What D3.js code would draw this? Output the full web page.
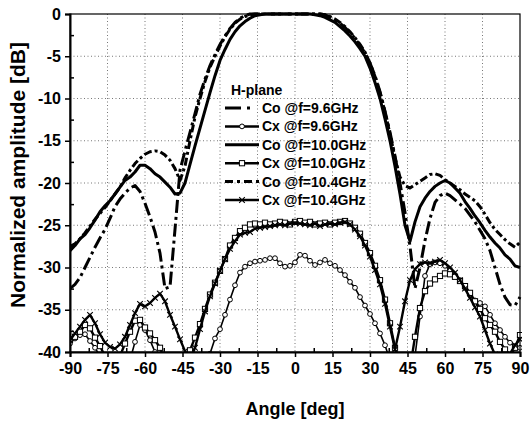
<!DOCTYPE html>
<html>
<head>
<meta charset="utf-8">
<script src="https://cdn.jsdelivr.net/npm/d3@7"></script>
<style>
  body { margin: 0; background: #fff; }
  text { font-family: "Liberation Sans", Arial, sans-serif; font-weight: bold; fill: #000; }
</style>
</head>
<body>
<script>
'use strict';

// angle grid [deg], one value per 2 degrees
const angles = [
  -90, -88, -86, -84, -82, -80, -78, -76, -74, -72,
  -70, -68, -66, -64, -62, -60, -58, -56, -54, -52,
  -50, -48, -46, -44, -42, -40, -38, -36, -34, -32,
  -30, -28, -26, -24, -22, -20, -18, -16, -14, -12,
  -10, -8, -6, -4, -2, 0, 2, 4, 6, 8,
  10, 12, 14, 16, 18, 20, 22, 24, 26, 28,
  30, 32, 34, 36, 38, 40, 42, 44, 46, 48,
  50, 52, 54, 56, 58, 60, 62, 64, 66, 68,
  70, 72, 74, 76, 78, 80, 82, 84, 86, 88,
  90
];

// normalized amplitude [dB]
const co96 = [
  -32.5, -32.0, -31.2, -30.0, -28.8, -27.6, -26.5, -25.5, -24.2, -22.8,
  -21.9, -21.2, -20.6, -20.3, -21.0, -22.4, -24.0, -25.8, -28.3, -32.5,
  -32.3, -25.5, -18.5, -16.2, -14.0, -11.8, -9.5, -7.7, -6.1, -4.8,
  -3.6, -2.6, -1.7, -1.0, -0.5, -0.2, 0, 0, 0, 0,
  0, 0, 0, 0, 0, 0, 0, 0, 0, 0,
  0, -0.1, -0.4, -0.7, -1.1, -1.6, -2.2, -2.9, -3.7, -4.6,
  -5.8, -7.3, -9.2, -11.5, -14.0, -16.8, -20.0, -23.5, -27.5, -32.5,
  -30.0, -26.8, -24.2, -22.3, -21.5, -21.2, -21.5, -22.0, -22.5, -23.0,
  -23.8, -24.6, -25.6, -26.6, -28.0, -30.0, -32.0, -33.5, -34.4, -34.5,
  -33.5
];
const cx96 = [
  -39.0, -38.4, -38.0, -37.9, -38.7, -39.5, -40.5, -42, -42, -42,
  -42, -42, -41, -38.8, -36.8, -37.4, -38.6, -40.0, -42, -42,
  -42, -42, -42, -42, -42, -42, -42, -42, -40.2, -38.4,
  -37.3, -35.6, -33.8, -32.1, -30.6, -29.9, -29.5, -29.3, -29.2, -29.1,
  -28.9, -28.9, -29.5, -29.9, -29.8, -29.4, -28.5, -28.6, -29.2, -29.7,
  -29.4, -29.1, -29.5, -29.8, -30.3, -30.9, -31.7, -32.4, -33.5, -34.5,
  -35.5, -36.6, -37.8, -39.2, -41, -42, -42, -42, -42, -40.5,
  -35.8, -31.0, -29.6, -29.4, -29.5, -29.8, -30.3, -30.9, -31.5, -32.4,
  -33.3, -33.9, -34.2, -34.6, -35.6, -36.6, -37.4, -38.2, -38.9, -39.3,
  -39.5
];
const co100 = [
  -28.0, -27.4, -26.6, -26.1, -25.3, -24.4, -23.4, -22.7, -22.1, -21.3,
  -20.5, -19.7, -19.3, -18.7, -17.9, -17.9, -18.3, -18.9, -19.3, -19.9,
  -20.5, -21.3, -21.2, -20.0, -17.8, -15.6, -13.5, -11.4, -9.3, -7.3,
  -5.5, -4.2, -3.0, -2.1, -1.4, -0.9, -0.5, -0.2, -0.1, 0,
  0, 0, 0, 0, 0, 0, 0, 0, 0, -0.1,
  -0.2, -0.4, -0.7, -1.0, -1.5, -2.0, -2.6, -3.3, -4.1, -5.0,
  -6.4, -8.1, -10.0, -12.4, -15.0, -18.0, -21.3, -25.0, -26.9, -24.6,
  -22.8, -21.8, -21.0, -20.4, -20.0, -19.7, -20.0, -20.6, -21.2, -22.2,
  -23.0, -23.9, -24.7, -25.6, -26.4, -27.1, -27.7, -28.5, -29.0, -29.8,
  -30.0
];
const cx100 = [
  -38.5, -38.2, -37.6, -36.8, -37.2, -38.3, -39.3, -40.5, -42, -42,
  -40.5, -39.0, -37.6, -36.3, -36.2, -37.1, -37.8, -38.6, -39.5, -41,
  -42, -42, -42, -41, -39.8, -38.3, -36.7, -34.9, -33.2, -31.8,
  -30.4, -29.0, -27.4, -26.5, -25.7, -25.3, -24.9, -24.8, -24.9, -24.7,
  -24.9, -24.8, -24.6, -24.7, -24.9, -24.6, -24.5, -24.7, -24.6, -24.9,
  -24.8, -24.7, -24.9, -24.7, -24.6, -24.5, -24.8, -25.3, -26.0, -27.1,
  -28.3, -29.8, -31.5, -33.8, -36.6, -39.5, -42, -42, -42, -38.2,
  -34.8, -32.8, -31.9, -31.4, -31.0, -30.7, -30.8, -31.1, -31.6, -32.2,
  -33.0, -34.0, -34.9, -36.0, -36.8, -37.6, -38.8, -39.7, -40.5, -39.5,
  -38.0
];
const co104 = [
  -27.5, -27.2, -26.6, -25.9, -25.1, -24.3, -23.6, -22.9, -22.1, -21.3,
  -20.5, -19.4, -18.5, -17.7, -17.1, -16.6, -16.3, -16.2, -16.3, -16.7,
  -17.3, -18.3, -19.7, -18.0, -15.0, -12.2, -10.0, -8.0, -6.3, -5.0,
  -3.8, -2.7, -1.8, -1.1, -0.6, -0.3, -0.1, 0, 0, 0,
  0, 0, 0, 0, 0, 0, 0, 0, 0, 0,
  0, -0.1, -0.3, -0.6, -1.0, -1.5, -2.1, -2.8, -3.6, -4.5,
  -5.8, -7.4, -9.3, -11.6, -14.2, -17.0, -19.3, -20.3, -20.6, -20.2,
  -19.8, -19.4, -19.0, -18.9, -19.1, -19.6, -20.0, -20.4, -20.8, -21.3,
  -21.7, -22.1, -22.8, -23.7, -24.7, -25.5, -26.1, -26.7, -27.2, -27.6,
  -27.0
];
const cx104 = [
  -38.6, -37.8, -37.0, -36.2, -35.6, -36.6, -37.9, -38.9, -39.4, -39.6,
  -39.1, -38.2, -36.8, -35.4, -34.3, -34.6, -34.2, -33.6, -33.1, -34.0,
  -35.6, -37.0, -38.5, -39.9, -41, -39.5, -37.3, -35.2, -33.4, -31.9,
  -30.4, -29.0, -27.8, -26.9, -26.1, -25.9, -25.8, -25.4, -25.3, -25.2,
  -25.1, -25.0, -24.9, -25.0, -24.8, -24.7, -24.8, -24.9, -25.0, -24.8,
  -25.1, -24.9, -24.8, -24.9, -24.7, -24.6, -24.9, -25.5, -26.3, -27.4,
  -28.7, -30.3, -32.0, -34.3, -37.0, -39.7, -37.0, -34.0, -31.5, -30.2,
  -29.6, -29.4, -29.5, -29.3, -29.1, -29.5, -30.0, -30.6, -31.5, -32.5,
  -33.6, -34.7, -35.8, -37.4, -39.0, -40.3, -41, -41, -40.2, -39.2,
  -38.5
];

// axis ticks
const xTicks = [-90, -75, -60, -45, -30, -15, 0, 15, 30, 45, 60, 75, 90];
const yTicks = [-40, -35, -30, -25, -20, -15, -10, -5, 0];

const legendTitle = "H-plane";
const seriesNames = [
  "Co @f=9.6GHz", "Cx @f=9.6GHz", "Co @f=10.0GHz",
  "Cx @f=10.0GHz", "Co @f=10.4GHz", "Cx @f=10.4GHz"
];

(function() {

  let svg = "";

  window.onload = function() {
    svg = d3.select('body')
      .append('svg')
      .attr('width', 532)
      .attr('height', 422);

    let scales = drawAxes();
    plotData(scales);
    drawFrame(scales);
    makeLabels();
    makeLegend();
  };

  // line styles for each series, in legend order
  let styles = [
    { values: co96, width: 3, dash: "13,4,3,4", marker: null },
    { values: cx96, width: 1.6, dash: null, marker: "circle" },
    { values: co100, width: 3, dash: null, marker: null },
    { values: cx100, width: 2.4, dash: null, marker: "square" },
    { values: co104, width: 3, dash: "8,3,3,3", marker: null },
    { values: cx104, width: 2.4, dash: null, marker: "cross" }
  ];

  function drawMarker(g, type, cx, cy) {
    if (type == "circle") {
      g.append("circle")
        .attr("cx", cx).attr("cy", cy).attr("r", 2.4)
        .style("fill", "#fff").style("stroke", "#000").style("stroke-width", 1);
    } else if (type == "square") {
      g.append("rect")
        .attr("x", cx - 2.6).attr("y", cy - 2.6)
        .attr("width", 5.2).attr("height", 5.2)
        .style("fill", "#fff").style("stroke", "#000").style("stroke-width", 1);
    } else if (type == "cross") {
      g.append("path")
        .attr("transform", "translate(" + cx + "," + cy + ")")
        .attr("d", "M-2.8,-2.8L2.8,2.8M-2.8,2.8L2.8,-2.8")
        .style("fill", "none").style("stroke", "#000").style("stroke-width", 1.1);
    }
  }

  function plotData(s) {
    let x = s.x, y = s.y;

    svg.append("clipPath")
      .attr("id", "plotclip")
      .append("rect")
      .attr("x", x(-90))
      .attr("y", y(0) - 3)
      .attr("width", x(90) - x(-90) + 2)
      .attr("height", y(-40) - y(0) + 3);

    let plot = svg.append("g").attr("clip-path", "url(#plotclip)");

    let line = d3.line()
      .x((d, i) => x(angles[i]))
      .y(d => y(d));

    // cross-pol first, co-pol on top
    let order = [1, 3, 5, 0, 2, 4];
    order.forEach(k => {
      let st = styles[k];
      plot.append("path")
        .datum(st.values)
        .attr("d", line)
        .style("fill", "none")
        .style("stroke", "#000")
        .style("stroke-width", st.width)
        .style("stroke-linejoin", "round")
        .style("stroke-dasharray", st.dash);

      if (st.marker) {
        let mg = plot.append("g");
        st.values.forEach((v, i) => {
          if (v > -41) drawMarker(mg, st.marker, x(angles[i]), y(v));
        });
      }
    });
  }

  function drawAxes() {
    let x = d3.scaleLinear().domain([-90, 90]).range([70, 520]);
    let y = d3.scaleLinear().domain([-40, 0]).range([352, 14]);

    // dotted grid
    let grid = svg.append("g");
    xTicks.slice(1, -1).forEach(t => {
      grid.append("line")
        .attr("x1", x(t)).attr("x2", x(t))
        .attr("y1", y(0)).attr("y2", y(-40))
        .style("stroke", "#777").style("stroke-width", 1)
        .style("stroke-dasharray", "1,2.5");
    });
    yTicks.slice(1, -1).forEach(t => {
      grid.append("line")
        .attr("x1", x(-90)).attr("x2", x(90))
        .attr("y1", y(t)).attr("y2", y(t))
        .style("stroke", "#777").style("stroke-width", 1)
        .style("stroke-dasharray", "1,2.5");
    });

    return { x: x, y: y };
  }

  function drawFrame(s) {
    let x = s.x, y = s.y;

    // top and right border
    svg.append("rect")
      .attr("x", x(-90)).attr("y", y(0))
      .attr("width", x(90) - x(-90))
      .attr("height", y(-40) - y(0))
      .style("fill", "none").style("stroke", "#000").style("stroke-width", 1.2);

    // bottom axis: major ticks outside, minor ticks inside
    let xAxis = d3.axisBottom(x)
      .tickValues(xTicks)
      .tickSize(5)
      .tickPadding(6)
      .tickFormat(d => String(d));
    let gx = svg.append("g")
      .attr("transform", "translate(0," + y(-40) + ")")
      .call(xAxis);
    gx.select(".domain").style("stroke-width", 2);
    gx.selectAll(".tick line").style("stroke-width", 1.5);
    gx.selectAll("text")
      .style("font-size", "16px")
      .style("font-family", "'Liberation Sans', Arial, sans-serif")
      .style("font-weight", "bold");

    let xMinor = d3.axisBottom(x)
      .tickValues(xTicks.slice(0, -1).map(t => t + 7.5))
      .tickSize(-4)
      .tickFormat("");
    svg.append("g")
      .attr("transform", "translate(0," + y(-40) + ")")
      .call(xMinor)
      .call(g => g.select(".domain").remove())
      .selectAll(".tick line").style("stroke-width", 1.5);

    // left axis
    let yAxis = d3.axisLeft(y)
      .tickValues(yTicks)
      .tickSize(5)
      .tickPadding(4)
      .tickFormat(d => String(d));
    let gy = svg.append("g")
      .attr("transform", "translate(" + x(-90) + ",0)")
      .call(yAxis);
    gy.select(".domain").style("stroke-width", 2);
    gy.selectAll(".tick line").style("stroke-width", 1.5);
    gy.selectAll("text")
      .style("font-size", "16px")
      .style("font-family", "'Liberation Sans', Arial, sans-serif")
      .style("font-weight", "bold");

    let yMinor = d3.axisLeft(y)
      .tickValues(yTicks.slice(0, -1).map(t => t + 2.5))
      .tickSize(-4)
      .tickFormat("");
    svg.append("g")
      .attr("transform", "translate(" + x(-90) + ",0)")
      .call(yMinor)
      .call(g => g.select(".domain").remove())
      .selectAll(".tick line").style("stroke-width", 1.5);
  }

  function makeLabels() {
    svg.append("text")
      .attr("x", 295)
      .attr("y", 415)
      .attr("text-anchor", "middle")
      .style("font-size", "18px")
      .text("Angle [deg]");

    svg.append("text")
      .attr("transform", "translate(25,175)rotate(-90)")
      .attr("text-anchor", "middle")
      .style("font-size", "21px")
      .text("Normalized amplitude [dB]");
  }

  function makeLegend() {
    let lg = svg.append("g");
    lg.append("text")
      .attr("x", 231)
      .attr("y", 95)
      .style("font-size", "14px")
      .text(legendTitle);

    seriesNames.forEach((name, i) => {
      let cy = 108 + i * 18.4;
      let st = styles[i];
      lg.append("line")
        .attr("x1", 225).attr("x2", 259)
        .attr("y1", cy).attr("y2", cy)
        .style("stroke", "#000")
        .style("stroke-width", st.width < 2 ? 2.5 : st.width)
        .style("stroke-dasharray", st.dash ? (i == 0 ? "16,6,3,9" : "8,4,3,4") : null);
      if (st.marker) drawMarker(lg, st.marker, 242, cy);
      lg.append("text")
        .attr("x", 262)
        .attr("y", cy + 5)
        .style("font-size", "14px")
        .text(name);
    });
  }
})();
</script>
</body>
</html>
